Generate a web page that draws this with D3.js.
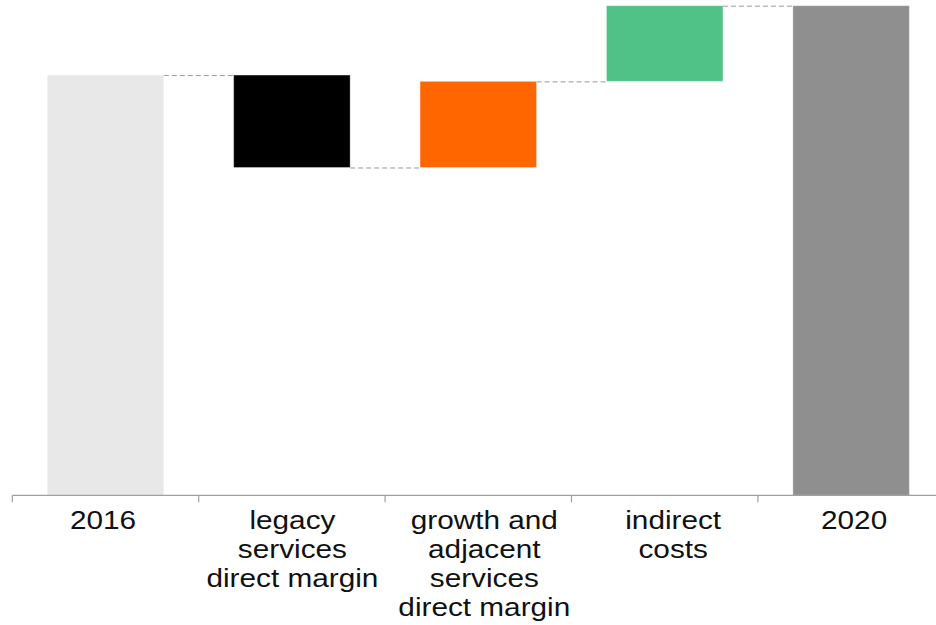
<!DOCTYPE html>
<html>
<head>
<meta charset="utf-8">
<script src="https://cdn.jsdelivr.net/npm/d3@7"></script>
<style>
  html, body { margin: 0; padding: 0; background: #fff; }
  svg { display: block; }
  text { font-family: "Liberation Sans", Arial, Helvetica, sans-serif; }
</style>
</head>
<body>
<svg id="chart" width="936" height="625"></svg>
<script>
// ---- data ----
const categories = ["2016", "legacy\nservices\ndirect margin", "growth and\nadjacent\nservices\ndirect margin", "indirect\ncosts", "2020"];
const kinds = ["total", "delta", "delta", "delta", "total"];
const values = [100, -22, 20.5, 18, 116.5];
const colors = ["#e7e8e7", "#000000", "#ff6600", "#50c187", "#8f8f8f"];

// ---- build waterfall ----
let running = 0;
const rows = categories.map((c, i) => {
  let start, end;
  if (kinds[i] === "total") { start = 0; end = values[i]; running = values[i]; }
  else { start = running; end = running + values[i]; running = end; }
  return { cat: c, start, end, level: running, color: colors[i], i };
});

const svg = d3.select("#chart");
const baseY = 495.3;
const x = d3.scaleBand().domain(categories).range([12.3, 944.3]).paddingInner(0.375).paddingOuter(0.1875);
const y = d3.scaleLinear().domain([0, 116.5]).range([baseY, 5.7]);

// connectors
const g = svg.append("g");
rows.slice(0, -1).forEach((r, i) => {
  const nxt = rows[i + 1];
  g.append("line")
    .attr("x1", x(r.cat) + x.bandwidth())
    .attr("x2", x(nxt.cat))
    .attr("y1", y(r.level) + 0.5)
    .attr("y2", y(r.level) + 0.5)
    .attr("stroke", "#9a9a9a")
    .attr("stroke-width", 1)
    .attr("stroke-dasharray", "5,3");
});

// bars
g.selectAll("rect.bar").data(rows).join("rect")
  .attr("class", "bar")
  .attr("x", d => x(d.cat))
  .attr("width", x.bandwidth())
  .attr("y", d => y(Math.max(d.start, d.end)))
  .attr("height", d => Math.abs(y(d.start) - y(d.end)))
  .attr("fill", d => d.color)
  .attr("stroke", "#ffffff")
  .attr("stroke-opacity", 0.35)
  .attr("stroke-width", 1);

// axis line
const step = x.step();
const x0 = x.range()[0];
svg.append("line")
  .attr("x1", x0).attr("x2", x.range()[1])
  .attr("y1", baseY).attr("y2", baseY)
  .attr("stroke", "#a0a0a0").attr("stroke-width", 1.2);

// boundary ticks
const bounds = d3.range(categories.length + 1).map(i => x0 + i * step);
svg.selectAll("line.tick").data(bounds).join("line")
  .attr("class", "tick")
  .attr("x1", d => d).attr("x2", d => d)
  .attr("y1", baseY).attr("y2", baseY + 7)
  .attr("stroke", "#a0a0a0").attr("stroke-width", 1.2);

// labels (horizontally widened to match the reference lettering)
const labelNudge = [-2.5, 0.5, 6, 8.5, 3];
const lab = svg.selectAll("text.lab").data(categories).join("text")
  .attr("class", "lab")
  .attr("text-anchor", "middle")
  .attr("font-size", 25)
  .attr("fill", "#111")
  .attr("transform", (d, i) => `translate(${x(d) + x.bandwidth() / 2 + labelNudge[i]},0) scale(1.19,1)`);
lab.each(function(d) {
  const t = d3.select(this);
  d.split("\n").forEach((line, k) => {
    t.append("tspan").attr("x", 0).attr("y", baseY + 34 + k * 29).text(line);
  });
});
</script>
</body>
</html>
